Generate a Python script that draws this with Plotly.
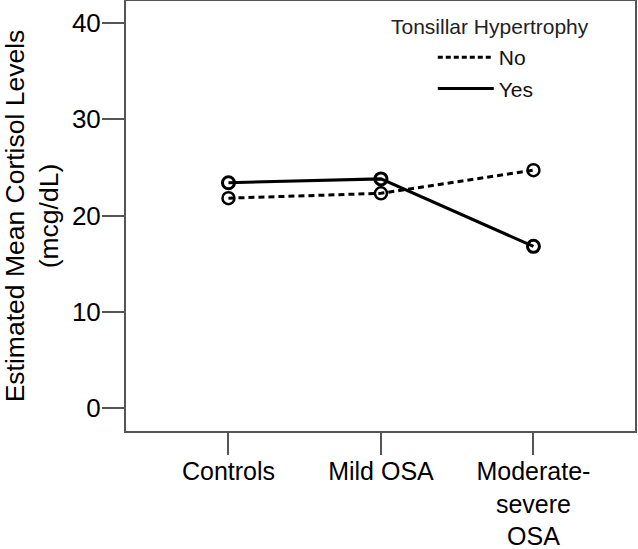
import plotly.graph_objects as go

categories = ["Controls", "Mild OSA", "Moderate-<br>severe<br>OSA"]
no_values = [21.8, 22.3, 24.7]
yes_values = [23.4, 23.8, 16.8]
y_ticks = [0, 10, 20, 30, 40]
legend_title = "Tonsillar Hypertrophy"

x_idx = list(range(len(categories)))

fig = go.Figure()
fig.add_trace(go.Scatter(
    x=x_idx, y=no_values, name="No", mode="lines+markers", showlegend=False,
    line=dict(color="black", width=3, dash="6px,4px"),
    marker=dict(symbol="circle-open", size=12, color="black", line=dict(width=2.5)),
))
fig.add_trace(go.Scatter(
    x=x_idx, y=yes_values, name="Yes", mode="lines+markers", showlegend=False,
    line=dict(color="black", width=3),
    marker=dict(symbol="circle-open", size=12, color="black", line=dict(width=3)),
))
# legend entries (lines only, as in the reference)
fig.add_trace(go.Scatter(
    x=[None], y=[None], name="No", mode="lines", legendgroup="no",
    line=dict(color="black", width=3, dash="5px,3px"),
))
fig.add_trace(go.Scatter(
    x=[None], y=[None], name="Yes", mode="lines", legendgroup="yes",
    line=dict(color="black", width=3),
))

axis_color = "#555555"
fig.update_layout(
    width=638, height=549,
    margin=dict(l=126, r=3, t=1, b=118),
    paper_bgcolor="white", plot_bgcolor="white",
    font=dict(family="Liberation Sans, Arial, sans-serif", color="black", size=26),
    showlegend=True,
    legend=dict(
        x=0.6027, y=0.916, xanchor="left", yanchor="top",
        bgcolor="rgba(0,0,0,0)",
        font=dict(size=21, color="#111111"),
        itemwidth=56, tracegroupgap=1,
    ),
    annotations=[dict(
        text=legend_title, xref="paper", yref="paper", x=0.715, y=0.94,
        xanchor="center", yanchor="middle", showarrow=False,
        font=dict(size=21, color="#222222"),
    )],
    xaxis=dict(
        range=[-0.672, 2.666], tickvals=x_idx, ticktext=categories,
        showline=True, linecolor=axis_color, linewidth=2, mirror=True,
        ticks="outside", ticklen=22, tickwidth=2, tickcolor=axis_color,
        showgrid=False, zeroline=False, automargin=False,
        tickfont=dict(size=25), ticklabelstandoff=-5,
    ),
    yaxis=dict(
        range=[-2.35, 42.25], tickvals=y_ticks,
        showline=True, linecolor=axis_color, linewidth=2, mirror=True,
        ticks="outside", ticklen=22, tickwidth=2, tickcolor=axis_color,
        showgrid=False, zeroline=False, automargin=False,
        tickfont=dict(size=26), ticklabelstandoff=-4,
        title=dict(text="Estimated Mean Cortisol Levels<br>(mcg/dL)", font=dict(size=26.5), standoff=16),
    ),
)

fig.write_html("out.html", config={"displayModeBar": False},
               post_script="document.body.style.margin='0';")
